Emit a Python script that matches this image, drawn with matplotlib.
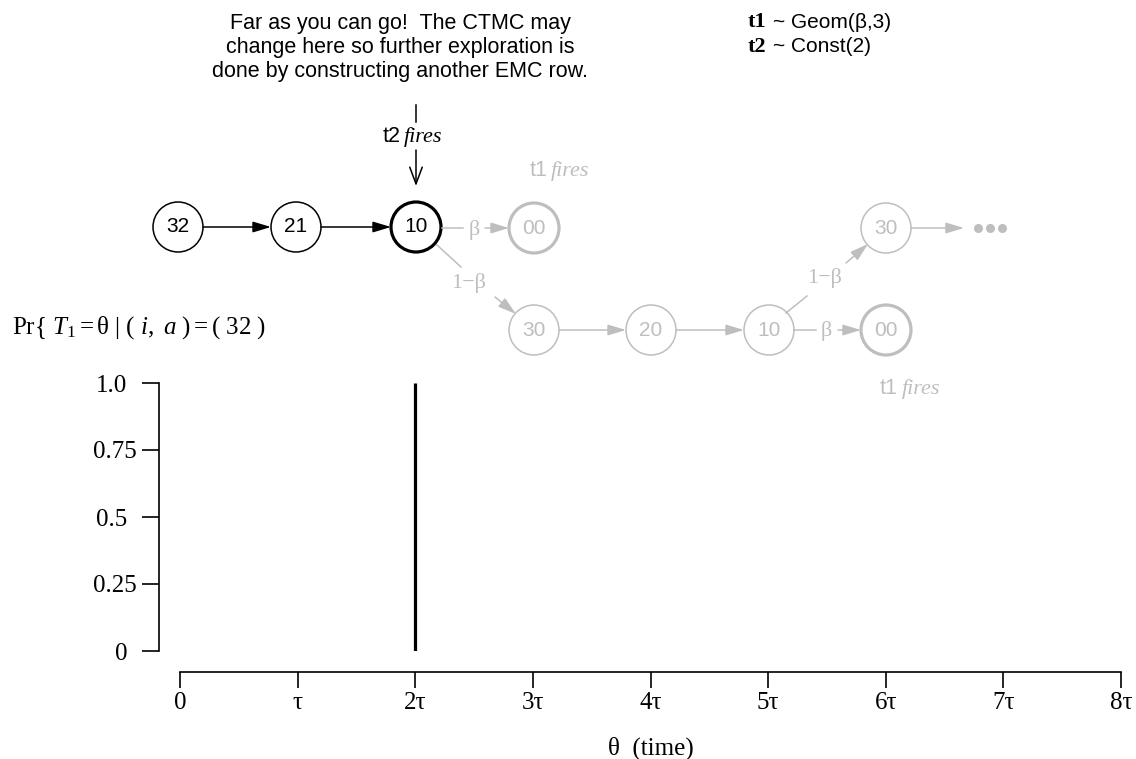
import matplotlib
matplotlib.use('Agg')
import matplotlib.pyplot as plt
import matplotlib.transforms as mtransforms
from matplotlib.patches import Circle

plt.rcParams['mathtext.fontset'] = 'custom'
plt.rcParams['mathtext.rm'] = 'Liberation Serif'
plt.rcParams['mathtext.it'] = 'Liberation Serif:italic'

SERIF = 'Liberation Serif'
SANS = 'Liberation Sans'
GREY = '#bebebe'

# distribution of T1 (all mass at 2 tau)
theta = [2]
prob = [1.0]
x_ticks = [0, 1, 2, 3, 4, 5, 6, 7, 8]
x_labels = ['0', 'τ', '2τ', '3τ', '4τ', '5τ', '6τ', '7τ', '8τ']
y_ticks = [0, 0.25, 0.5, 0.75, 1.0]
y_labels = ['0', '0.25', '0.5', '0.75', '1.0']

# states in the chain diagram
states = ['32', '21', '10', '00', '30', '20', '10', '00', '30']
explored = [True, True, True, False, False, False, False, False, False]
absorbing = [False, False, True, True, False, False, False, True, False]

# where the states sit (pixels)
node_x = [178, 296, 416, 534, 534, 651, 769, 886, 886]
node_y = [227, 227, 227, 228, 330, 330, 330, 330, 228]
R = 25

W, H = 1136, 759
fig = plt.figure(figsize=(W / 100, H / 100), dpi=100)

# --- the pmf plot ---
ax = fig.add_axes([180 / W, 1 - 651 / H, 941 / W, (651 - 383) / H])
ax.vlines(theta, 0, prob, color='black', lw=2.3)
ax.set_xlim(0, 8)
ax.set_ylim(0, 1)
ax.patch.set_visible(False)
for s in ['top', 'right']:
    ax.spines[s].set_visible(False)
ax.spines['left'].set_position(('outward', 21 * 0.72))
ax.spines['bottom'].set_position(('outward', 21 * 0.72))
ax.spines['left'].set_bounds(0, 1)
ax.spines['bottom'].set_bounds(0, 8)
for s in ['left', 'bottom']:
    ax.spines[s].set_linewidth(1.2)
ax.set_xticks(x_ticks, x_labels)
ax.set_yticks(y_ticks, y_labels)
ax.tick_params(axis='x', length=16 * 0.72, width=1.2, pad=3, labelsize=18)
ax.tick_params(axis='y', length=17 * 0.72, width=1.2, pad=3.6, labelsize=18)
for lab in ax.get_xticklabels() + ax.get_yticklabels():
    lab.set_fontfamily(SERIF)
# the short labels sit a bit further left in the original
for lab in ax.get_yticklabels():
    if lab.get_text() in ('0', '0.5', '1.0'):
        lab.set_transform(lab.get_transform() +
                          mtransforms.ScaledTranslation(-10 / 100, 0, fig.dpi_scale_trans))
ax.set_xlabel('θ  (time)', fontsize=18, family=SERIF, labelpad=16)

# --- the diagram, drawn in pixel coordinates ---
dg = fig.add_axes([0, 0, 1, 1])
dg.set_xlim(0, W)
dg.set_ylim(H, 0)
dg.axis('off')


def arrow(x0, y0, x1, y1, color, style='-|>,head_length=1.1,head_width=0.33'):
    dg.annotate('', xy=(x1, y1), xytext=(x0, y0),
                arrowprops=dict(arrowstyle=style, color=color, lw=1.1,
                                shrinkA=0, shrinkB=0, mutation_scale=10))


for name, x, y, done, thick in zip(states, node_x, node_y, explored, absorbing):
    c = 'black' if done else GREY
    dg.add_patch(Circle((x, y), R, fill=False, ec=c, lw=2.3 if thick else 1.1))
    dg.text(x, y, name, ha='center', va='center', fontsize=15, family=SANS, color=c)

# explored transitions
arrow(203, 227, 271, 227, 'black')
arrow(321, 227, 391, 227, 'black')
dg.plot([416, 416], [105, 122], color='black', lw=1.1)
arrow(416, 150, 416, 186, 'black', style='->,head_length=1.2,head_width=0.45')
dg.text(401, 137, 't2', ha='right', va='center', fontsize=15.5, family=SANS)
dg.text(404, 137, 'fires', ha='left', va='center', fontsize=16, family=SERIF,
        style='italic')

# unexplored transitions
dg.plot([437, 461], [245, 267], color=GREY, lw=1.1)
dg.text(469, 283, '1\u2212β', ha='center', va='center', fontsize=16, family=SERIF, color=GREY)
arrow(495, 297, 516, 314, GREY)
dg.plot([442, 463], [228, 228], color=GREY, lw=1.1)
dg.text(474, 230, 'β', ha='center', va='center', fontsize=16, family=SERIF, color=GREY)
arrow(485, 228, 509, 228, GREY)
arrow(559, 330, 626, 330, GREY)
arrow(676, 330, 744, 330, GREY)
dg.plot([794, 816], [330, 330], color=GREY, lw=1.1)
dg.text(826, 331, 'β', ha='center', va='center', fontsize=16, family=SERIF, color=GREY)
arrow(838, 330, 861, 330, GREY)
dg.plot([786, 807], [313, 296], color=GREY, lw=1.1)
dg.text(825, 278, '1\u2212β', ha='center', va='center', fontsize=16, family=SERIF, color=GREY)
arrow(846, 263, 868, 244, GREY)
arrow(911, 228, 964, 228, GREY)
dg.plot([978, 990, 1002], [228, 228, 228], 'o', color=GREY, ms=6.5, mec='none')

dg.text(547, 171, 't1', ha='right', va='center', fontsize=15.5, family=SANS, color=GREY)
dg.text(551, 171, 'fires', ha='left', va='center', fontsize=16, family=SERIF,
        style='italic', color=GREY)
dg.text(898, 389, 't1', ha='right', va='center', fontsize=15.5, family=SANS, color=GREY)
dg.text(902, 389, 'fires', ha='left', va='center', fontsize=16, family=SERIF,
        style='italic', color=GREY)

# notes
note = ['Far as you can go!  The CTMC may',
        'change here so further exploration is',
        'done by constructing another EMC row.']
for i, line in enumerate(note):
    dg.text(400, 23 + 24.5 * i, line, ha='center', va='center', fontsize=15.5, family=SANS)

dg.text(748, 22, 't1', ha='left', va='center', fontsize=16, family=SERIF, weight='bold')
dg.text(773, 22, '~ Geom(β,3)', ha='left', va='center', fontsize=15, family=SANS)
dg.text(748, 47, 't2', ha='left', va='center', fontsize=16, family=SERIF, weight='bold')
dg.text(773, 47, '~ Const(2)', ha='left', va='center', fontsize=15, family=SANS)

dg.text(12, 328, r'$\mathrm{Pr\{}\ T_1 = \mathrm{\theta}\ |\ (\ i,\ a\ ) = (\ 32\ )$',
        ha='left', va='center', fontsize=18)

fig.savefig('out.png', dpi=100)
